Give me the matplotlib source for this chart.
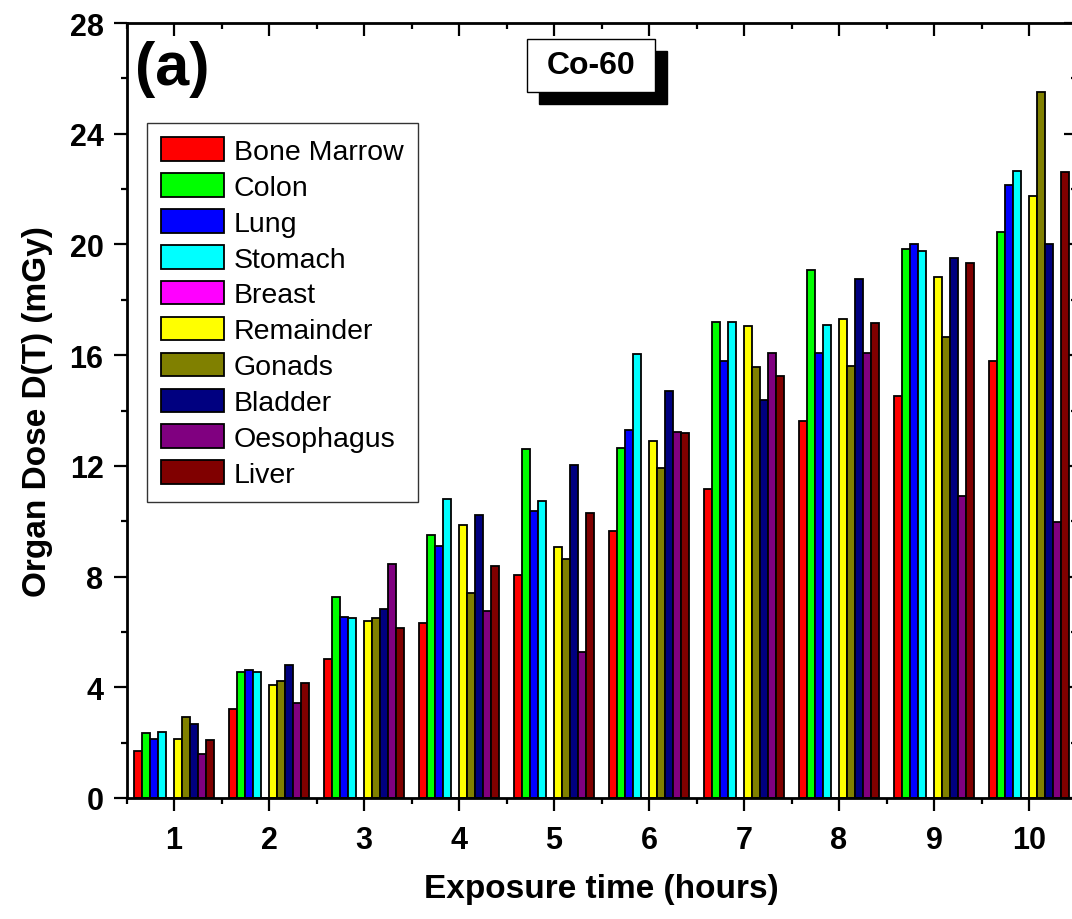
import numpy as np
import matplotlib
matplotlib.use("Agg")
import matplotlib.pyplot as plt
from matplotlib.patches import Rectangle
from matplotlib.ticker import MultipleLocator

plt.rcParams['font.family'] = ['Liberation Sans', 'DejaVu Sans']

hours = [1, 2, 3, 4, 5, 6, 7, 8, 9, 10]
organs = ['Bone Marrow', 'Colon', 'Lung', 'Stomach', 'Breast',
          'Remainder', 'Gonads', 'Bladder', 'Oesophagus', 'Liver']
colors = ['#FF0000', '#00FF00', '#0000FF', '#00FFFF', '#FF00FF',
          '#FFFF00', '#808000', '#000080', '#800080', '#800000']

# organ dose (mGy), one list per organ
bone_marrow = [1.69, 3.22, 5.03, 6.32, 8.04, 9.63, 11.18, 13.63, 14.53, 15.80]
colon       = [2.34, 4.55, 7.26, 9.49, 12.62, 12.65, 17.19, 19.09, 19.84, 20.45]
lung        = [2.13, 4.61, 6.55, 9.12, 10.37, 13.31, 15.80, 16.06, 20.03, 22.15]
stomach     = [2.38, 4.57, 6.51, 10.81, 10.73, 16.03, 17.19, 17.10, 19.76, 22.64]
breast      = [0, 0, 0, 0, 0, 0, 0, 0, 0, 0]
remainder   = [2.13, 4.10, 6.38, 9.87, 9.07, 12.91, 17.04, 17.29, 18.82, 21.74]
gonads      = [2.93, 4.23, 6.51, 7.41, 8.62, 11.92, 15.56, 15.61, 16.66, 25.52]
bladder     = [2.69, 4.79, 6.82, 10.22, 12.02, 14.70, 14.37, 18.75, 19.50, 20.02]
oesophagus  = [1.58, 3.42, 8.46, 6.74, 5.29, 13.22, 16.08, 16.09, 10.90, 9.98]
liver       = [2.10, 4.16, 6.15, 8.37, 10.31, 13.19, 15.25, 17.16, 19.33, 22.63]

series = [bone_marrow, colon, lung, stomach, breast,
          remainder, gonads, bladder, oesophagus, liver]

W, H = 1072, 920
fig = plt.figure(figsize=(W / 100, H / 100), dpi=100)
ax = fig.add_axes([126.5 / W, 1 - 799 / H, (1076.5 - 126.5) / W, (799 - 24) / H])

x = np.array(hours, dtype=float)
bw = 0.085
for i, (name, vals, c) in enumerate(zip(organs, series, colors)):
    ax.bar(x + (i - 4.5) * bw, vals, width=bw, color=c, edgecolor='black',
           linewidth=1.3, label=name, zorder=2)

ax.set_xlim(0.5, 10.5)
ax.set_ylim(0, 28)
ax.set_xticks(hours)
ax.xaxis.set_minor_locator(MultipleLocator(0.5))
ax.yaxis.set_major_locator(MultipleLocator(4))
ax.yaxis.set_minor_locator(MultipleLocator(2))

for s in ax.spines.values():
    s.set_linewidth(2.0)

ax.tick_params(which='both', direction='out', width=1.6, labelsize=22,
               top=False, right=False)
ax.tick_params(which='major', length=9.5)
ax.tick_params(axis='y', which='major', pad=7)
ax.tick_params(axis='x', which='major', pad=10)
ax.tick_params(which='minor', length=4.5)
for lab in ax.get_xticklabels() + ax.get_yticklabels():
    lab.set_fontweight('bold')

# inward ticks on top and right, like the origin frame
axt = ax.secondary_xaxis('top')
axt.set_xticks(hours)
axt.xaxis.set_minor_locator(MultipleLocator(0.5))
axt.tick_params(which='both', direction='in', width=1.6, labeltop=False)
axt.tick_params(which='major', length=9.5)
axt.tick_params(which='minor', length=4.5)
axr = ax.secondary_yaxis('right')
axr.yaxis.set_major_locator(MultipleLocator(4))
axr.yaxis.set_minor_locator(MultipleLocator(2))
axr.tick_params(which='both', direction='in', width=1.6, labelright=False)
axr.tick_params(which='major', length=9.5)
axr.tick_params(which='minor', length=4.5)

ax.set_xlabel('Exposure time (hours)', fontsize=24, fontweight='bold', labelpad=13)
ax.set_ylabel('Organ Dose D(T) (mGy)', fontsize=24, fontweight='bold', labelpad=12)

leg = ax.legend(loc='upper left', bbox_to_anchor=(147 / W, 1 - 124 / H),
                bbox_transform=fig.transFigure, fontsize=20.5, frameon=True,
                fancybox=False, borderaxespad=0, handlelength=2.2,
                handleheight=0.9, handletextpad=0.35, labelspacing=0.29,
                borderpad=0.5)
leg.get_frame().set_edgecolor('black')
leg.get_frame().set_linewidth(1.0)

fig.text(135 / W, 1 - 70 / H, '(a)', fontsize=44, fontweight='bold',
         ha='left', va='center')

# Co-60 label box with black drop shadow
bx, by, bwid, bh = 527, 40, 128, 53
fig.add_artist(Rectangle(((bx + 12) / W, 1 - (by + bh + 12) / H), bwid / W, bh / H,
                         transform=fig.transFigure, facecolor='black',
                         edgecolor='black', zorder=5))
fig.add_artist(Rectangle((bx / W, 1 - (by + bh) / H), bwid / W, bh / H,
                         transform=fig.transFigure, facecolor='white',
                         edgecolor='black', linewidth=1.0, zorder=6))
fig.text((bx + bwid / 2) / W, 1 - (by + bh / 2) / H, 'Co-60', fontsize=23,
         fontweight='bold', ha='center', va='center', zorder=7)

fig.savefig('out.png', dpi=100)
